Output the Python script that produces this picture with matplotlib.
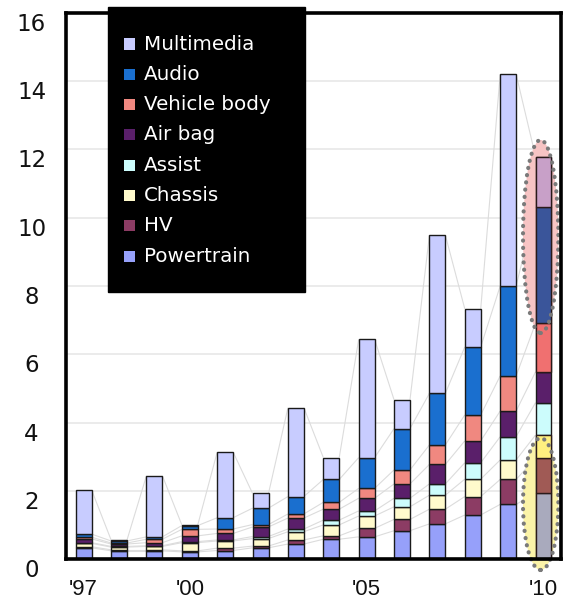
import matplotlib
matplotlib.use("Agg")
import matplotlib.pyplot as plt
from matplotlib.patches import Ellipse, Rectangle
import numpy as np

# ---- data (millions of units per year, stacked bottom -> top) ----
years = list(range(1997, 2011))
year_ticks = {1997: "'97", 2000: "'00", 2005: "'05", 2010: "'10"}

series_names = ["Powertrain", "HV", "Chassis", "Assist", "Air bag",
                "Vehicle body", "Audio", "Multimedia"]

powertrain   = [0.34, 0.25, 0.25, 0.22, 0.26, 0.34, 0.45, 0.59, 0.66, 0.84, 1.04, 1.30, 1.61, 1.95]
hv           = [0.03, 0.03, 0.03, 0.03, 0.07, 0.05, 0.12, 0.10, 0.25, 0.33, 0.43, 0.54, 0.73, 1.01]
chassis      = [0.10, 0.08, 0.10, 0.24, 0.21, 0.22, 0.24, 0.32, 0.36, 0.37, 0.41, 0.51, 0.57, 0.68]
assist       = [0.02, 0.02, 0.02, 0.03, 0.03, 0.06, 0.08, 0.14, 0.15, 0.25, 0.33, 0.48, 0.68, 0.95]
air_bag      = [0.11, 0.07, 0.09, 0.17, 0.19, 0.28, 0.32, 0.32, 0.37, 0.42, 0.57, 0.64, 0.75, 0.90]
vehicle_body = [0.05, 0.03, 0.10, 0.19, 0.13, 0.07, 0.12, 0.20, 0.29, 0.41, 0.57, 0.76, 1.03, 1.42]
audio        = [0.09, 0.06, 0.07, 0.11, 0.33, 0.48, 0.51, 0.67, 0.90, 1.21, 1.51, 1.99, 2.63, 3.41]
multimedia   = [1.29, 0.03, 1.79, 0.02, 1.92, 0.43, 2.60, 0.64, 3.46, 0.84, 4.63, 1.11, 6.20, 1.47]

series_values = [powertrain, hv, chassis, assist, air_bag, vehicle_body, audio, multimedia]

colors = {
    "Powertrain":   "#96a0fa",
    "HV":           "#8c3c64",
    "Chassis":      "#fffacc",
    "Assist":       "#ccfcfc",
    "Air bag":      "#5a1f6a",
    "Vehicle body": "#f08880",
    "Audio":        "#1a6fcf",
    "Multimedia":   "#c8ccff",
}
# tinted look of the 2010 bar under the highlight ellipses
pink_tint = {"Multimedia": "#c8a0c8", "Audio": "#3a559a", "Vehicle body": "#f07070"}
yellow_tint = {"Powertrain": "#a9aabd", "HV": "#a05a55", "Chassis": "#fff080"}

# ---- figure ----
W, H = 564, 606
fig = plt.figure(figsize=(W / 100, H / 100), dpi=100)
ax_left, ax_right, ax_top, ax_bottom = 66, 561.2, 12.7, 559.4
ax = fig.add_axes([ax_left / W, 1 - ax_bottom / H,
                   (ax_right - ax_left) / W, (ax_bottom - ax_top) / H])

x = np.arange(len(years))
bar_w = 0.45
ax.set_xlim(-0.5, len(years) - 0.5)
ax.set_ylim(0, 16)

# horizontal grid
for g in range(2, 16, 2):
    ax.axhline(g, color="#e6e6e6", lw=1.1, zorder=0)

# stacked bars
vals = np.array(series_values)
cum = np.cumsum(vals, axis=0)
bottoms = np.vstack([np.zeros(len(years)), cum[:-1]])

# series lines joining the segment tops of neighbouring bars
for level in cum:
    for i in range(len(years) - 1):
        ax.plot([x[i] + bar_w / 2, x[i + 1] - bar_w / 2], [level[i], level[i + 1]],
                color="#dcdcdc", lw=0.8, zorder=1, solid_capstyle="butt")

bars = {}
for name, v, b in zip(series_names, vals, bottoms):
    bars[name] = ax.bar(x, v, bar_w, bottom=b, color=colors[name],
                        edgecolor="#1a1a1a", linewidth=1.0, zorder=2)

# highlight ellipses around the 2010 bar
last = len(years) - 1
ell_defs = [
    (9.45, 5.65, "#f7c4c4", pink_tint),
    (1.62, 3.86, "#fbf3a8", yellow_tint),
]
for yc, hgt, fill, tint in ell_defs:
    fill_patch = Ellipse((x[last] - 0.08, yc), 1.0, hgt, facecolor=fill,
                         edgecolor="none", zorder=1.5, clip_on=False)
    ax.add_patch(fill_patch)
    clip = Ellipse((x[last] - 0.08, yc), 1.0, hgt, facecolor="none",
                   edgecolor="none", clip_on=False)
    ax.add_patch(clip)
    for k, name in enumerate(series_names):
        if name in tint:
            r = Rectangle((x[last] - bar_w / 2, bottoms[k][last]), bar_w, vals[k][last],
                          facecolor=tint[name], edgecolor="#2a1a1a", linewidth=1.0,
                          zorder=2.2, clip_on=False)
            ax.add_patch(r)
            r.set_clip_path(clip)
    outline = Ellipse((x[last] - 0.08, yc), 1.0, hgt, facecolor="none",
                      edgecolor="#7a7a7a", linewidth=3.0, linestyle=(0, (0.05, 1.7)),
                      zorder=3, clip_on=False)
    outline.set_capstyle("round")
    ax.add_patch(outline)

# axes frame
for s in ax.spines.values():
    s.set_linewidth(2.6)
    s.set_color("#000000")
    s.set_zorder(4)

ax.set_yticks(range(0, 17, 2))
ax.set_yticklabels([str(t) for t in range(0, 17, 2)], fontsize=16.5,
                   family="DejaVu Sans", color="#111111")
for lbl in ax.get_yticklabels():
    lbl.set_horizontalalignment("center")
    lbl.set_verticalalignment("top")
ax.tick_params(axis="y", length=0, pad=24.8)

tick_pos = [years.index(yv) for yv in year_ticks]
ax.set_xticks(tick_pos)
ax.set_xticklabels(list(year_ticks.values()), fontsize=16,
                   family="Liberation Sans", color="#111111")
ax.tick_params(axis="x", length=0, pad=14)

# legend: black box with square swatches, Multimedia first
box_l, box_t, box_r, box_b = 108, 7, 305, 292
fig.add_artist(Rectangle((box_l / W, 1 - box_b / H), (box_r - box_l) / W,
                         (box_b - box_t) / H, transform=fig.transFigure,
                         facecolor="#000000", edgecolor="#000000", zorder=10))
row0, row_step = 44, 30.3
sw = 11
for j, name in enumerate(reversed(series_names)):
    yc = row0 + j * row_step
    fig.add_artist(Rectangle(((129 - sw / 2) / W, 1 - (yc + sw / 2) / H), sw / W, sw / H,
                             transform=fig.transFigure, facecolor=colors[name],
                             edgecolor="none", zorder=11))
    fig.text(144 / W, 1 - yc / H, name, color="white", fontsize=14.3,
             family="DejaVu Sans", va="center", ha="left", zorder=12)

fig.savefig("out.png", dpi=100, facecolor="white")
